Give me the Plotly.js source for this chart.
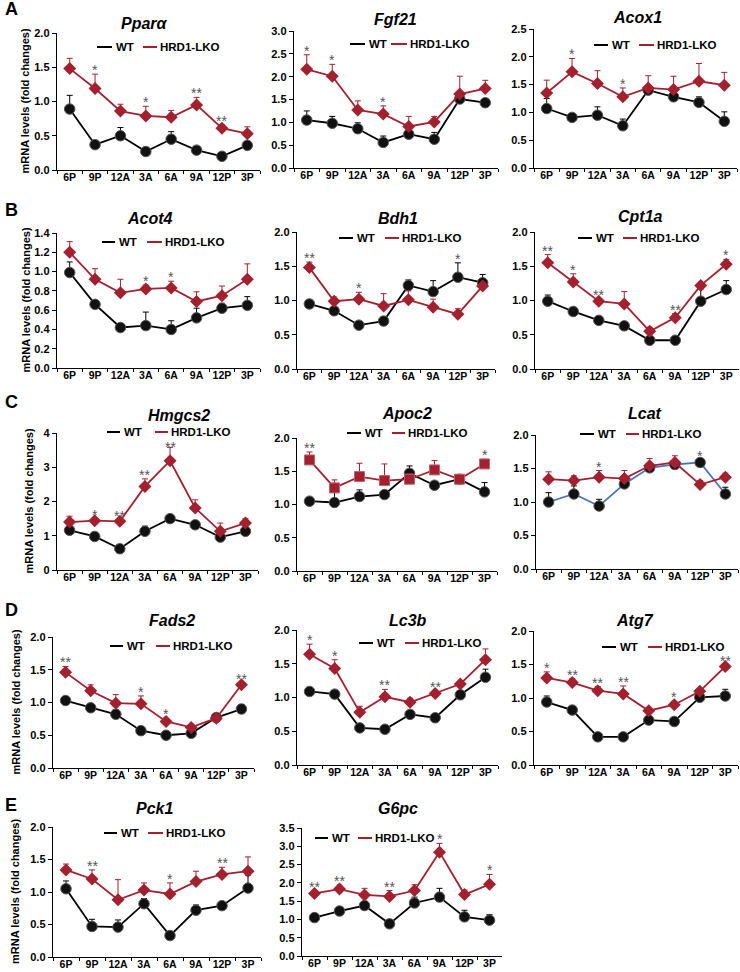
<!DOCTYPE html>
<html><head><meta charset="utf-8">
<script src="https://cdn.plot.ly/plotly-3.0.1.min.js"></script>
<style>body{margin:0;background:#fff}#chart{width:740px;height:972px}</style>
</head><body><div id="chart"></div>
<script>
const times = ['6P','9P','12A','3A','6A','9A','12P','3P'];
const seriesNames = ['WT','HRD1-LKO'];
const genes = ['Pparα','Fgf21','Acox1','Acot4','Bdh1','Cpt1a','Hmgcs2','Apoc2','Lcat','Fads2','Lc3b','Atg7','Pck1','G6pc'];

const pparaWT = [0.89,0.37,0.50,0.27,0.45,0.29,0.20,0.36];
const pparaWTerr = [0.20,0.03,0.12,0.02,0.11,0.02,0.02,0.05];
const pparaKO = [1.48,1.19,0.86,0.79,0.77,0.95,0.61,0.53];
const pparaKOerr = [0.15,0.21,0.10,0.14,0.10,0.11,0.05,0.10];
const pparaSig = ['','*','','*','','**','**',''];

const fgf21WT = [1.05,0.98,0.86,0.56,0.74,0.63,1.51,1.43];
const fgf21WTerr = [0.20,0.15,0.13,0.14,0.07,0.15,0.10,0.05];
const fgf21KO = [2.16,2.01,1.27,1.18,0.91,1.01,1.62,1.74];
const fgf21KOerr = [0.32,0.26,0.20,0.18,0.22,0.12,0.39,0.18];
const fgf21Sig = ['*','*','','*','','','',''];

const acox1WT = [1.07,0.91,0.95,0.76,1.40,1.28,1.18,0.84];
const acox1WTerr = [0.18,0.05,0.15,0.12,0.05,0.07,0.10,0.17];
const acox1KO = [1.35,1.73,1.52,1.28,1.44,1.41,1.56,1.49];
const acox1KOerr = [0.23,0.24,0.23,0.16,0.22,0.24,0.32,0.23];
const acox1Sig = ['','*','','*','','','',''];

const acot4WT = [0.99,0.66,0.42,0.44,0.40,0.52,0.62,0.65];
const acot4WTerr = [0.11,0.02,0.03,0.14,0.09,0.10,0.05,0.09];
const acot4KO = [1.20,0.92,0.78,0.82,0.83,0.69,0.75,0.92];
const acot4KOerr = [0.11,0.11,0.14,0.04,0.07,0.10,0.10,0.16];
const acot4Sig = ['','','','*','*','','',''];

const bdh1WT = [0.95,0.85,0.64,0.70,1.22,1.13,1.34,1.26];
const bdh1WTerr = [0.02,0.03,0.02,0.03,0.08,0.16,0.21,0.12];
const bdh1KO = [1.48,0.99,1.02,0.92,1.01,0.90,0.80,1.21];
const bdh1KOerr = [0.08,0.06,0.10,0.18,0.13,0.12,0.08,0.05];
const bdh1Sig = ['**','','*','','','','*',''];

const cpt1aWT = [0.99,0.84,0.71,0.63,0.42,0.42,0.99,1.16];
const cpt1aWTerr = [0.09,0.02,0.02,0.03,0.02,0.02,0.18,0.13];
const cpt1aKO = [1.55,1.27,0.99,0.95,0.55,0.75,1.22,1.53];
const cpt1aKOerr = [0.12,0.12,0.03,0.18,0.06,0.06,0.03,0.07];
const cpt1aSig = ['**','*','**','','','**','','*'];

const hmgcs2WT = [1.16,0.98,0.62,1.13,1.50,1.32,0.96,1.13];
const hmgcs2WTerr = [0.08,0.05,0.04,0.15,0.06,0.06,0.05,0.10];
const hmgcs2KO = [1.40,1.44,1.42,2.44,3.19,1.81,1.13,1.37];
const hmgcs2KOerr = [0.17,0.05,0.03,0.22,0.39,0.24,0.24,0.13];
const hmgcs2Sig = ['','*','**','**','**','','',''];

const apoc2WT = [1.05,1.03,1.12,1.15,1.47,1.29,1.38,1.19];
const apoc2WTerr = [0.02,0.15,0.10,0.03,0.11,0.03,0.03,0.14];
const apoc2KO = [1.67,1.25,1.42,1.36,1.38,1.52,1.38,1.61];
const apoc2KOerr = [0.12,0.12,0.20,0.25,0.08,0.14,0.03,0.07];
const apoc2Sig = ['**','','','','','','','*'];

const lcatWT = [1.00,1.12,0.94,1.27,1.51,1.56,1.59,1.12];
const lcatWTerr = [0.14,0.12,0.10,0.03,0.03,0.03,0.03,0.10];
const lcatKO = [1.34,1.32,1.37,1.35,1.54,1.59,1.26,1.37];
const lcatKOerr = [0.11,0.07,0.10,0.12,0.11,0.10,0.06,0.06];
const lcatSig = ['','','*','','','','*',''];

const fads2WT = [1.03,0.92,0.82,0.57,0.50,0.53,0.77,0.90];
const fads2WTerr = [0.02,0.03,0.07,0.06,0.03,0.03,0.04,0.07];
const fads2KO = [1.46,1.18,0.99,0.98,0.71,0.62,0.76,1.27];
const fads2KOerr = [0.09,0.09,0.13,0.12,0.05,0.04,0.04,0.03];
const fads2Sig = ['**','','','*','*','','','**'];

const lc3bWT = [1.09,1.05,0.55,0.53,0.75,0.70,1.04,1.30];
const lc3bWTerr = [0.03,0.02,0.02,0.02,0.02,0.02,0.03,0.12];
const lc3bKO = [1.64,1.43,0.78,1.01,0.93,1.06,1.20,1.56];
const lc3bKOerr = [0.15,0.13,0.09,0.11,0.06,0.04,0.03,0.16];
const lc3bSig = ['*','*','','**','','**','',''];

const atg7WT = [0.94,0.82,0.42,0.42,0.67,0.65,1.01,1.03];
const atg7WTerr = [0.09,0.02,0.03,0.05,0.02,0.02,0.03,0.10];
const atg7KO = [1.30,1.23,1.11,1.06,0.81,0.90,1.10,1.47];
const atg7KOerr = [0.09,0.06,0.06,0.12,0.02,0.05,0.02,0.03];
const atg7Sig = ['*','**','**','**','','*','','**'];

const pck1WT = [1.05,0.47,0.46,0.82,0.33,0.72,0.79,1.06];
const pck1WTerr = [0.12,0.11,0.11,0.08,0.02,0.08,0.04,0.20];
const pck1KO = [1.34,1.20,0.88,1.03,0.97,1.16,1.27,1.32];
const pck1KOerr = [0.09,0.14,0.31,0.11,0.17,0.16,0.11,0.22];
const pck1Sig = ['','**','','','*','','**',''];

const g6pcWT = [1.05,1.23,1.38,0.88,1.45,1.61,1.07,0.98];
const g6pcWTerr = [0.03,0.04,0.04,0.03,0.16,0.24,0.18,0.15];
const g6pcKO = [1.71,1.83,1.67,1.63,1.79,2.84,1.68,1.96];
const g6pcKOerr = [0.07,0.11,0.18,0.16,0.16,0.24,0.12,0.27];
const g6pcSig = ['**','**','','**','','*','','*'];

const W = 740, H = 972;
const RED = '#A3202E', BLACK = '#000000', BLUE = '#4A72C2';
const FONT = 'Liberation Sans, Arial, Helvetica, sans-serif';

// geometry in pixels: box [x0,x1,yTop,yBottom], title [cx,cy], legend [y, bx0,bx1, rx0,rx1]
const panels = [
 {wt:pparaWT, we:pparaWTerr, ko:pparaKO, ke:pparaKOerr, sig:pparaSig, ymax:2, dt:0.5, box:[57,260,33,170], t:[144,23], lg:[47,97,112,143,157]},
 {wt:fgf21WT, we:fgf21WTerr, ko:fgf21KO, ke:fgf21KOerr, sig:fgf21Sig, ymax:3, dt:0.5, box:[294,498,31,168], t:[395,19], lg:[44,350,365,391,407]},
 {wt:acox1WT, we:acox1WTerr, ko:acox1KO, ke:acox1KOerr, sig:acox1Sig, ymax:2.5, dt:0.5, box:[534,737,29,168], t:[637,18], lg:[45,594,608,639,654]},
 {wt:acot4WT, we:acot4WTerr, ko:acot4KO, ke:acot4KOerr, sig:acot4Sig, ymax:1.4, dt:0.2, box:[57,260,233,368], t:[150,218], lg:[242,102,115,147,162]},
 {wt:bdh1WT, we:bdh1WTerr, ko:bdh1KO, ke:bdh1KOerr, sig:bdh1Sig, ymax:2, dt:0.5, box:[297,495,232,369], t:[398,218], lg:[238,339,353,385,399]},
 {wt:cpt1aWT, we:cpt1aWTerr, ko:cpt1aKO, ke:cpt1aKOerr, sig:cpt1aSig, ymax:2, dt:0.5, box:[535,739,232,369], t:[640,217], lg:[238,578,592,623,637]},
 {wt:hmgcs2WT, we:hmgcs2WTerr, ko:hmgcs2KO, ke:hmgcs2KOerr, sig:hmgcs2Sig, ymax:4, dt:1, fmt:'d', box:[57,258,433,570], t:[179,415], lg:[432,107,120,155,168], lowStar:4},
 {wt:apoc2WT, we:apoc2WTerr, ko:apoc2KO, ke:apoc2KOerr, sig:apoc2Sig, ymax:2, dt:0.5, box:[297,497,438,571], t:[407,413], lg:[433,347,361,392,405], koSym:'square'},
 {wt:lcatWT, we:lcatWTerr, ko:lcatKO, ke:lcatKOerr, sig:lcatSig, ymax:2, dt:0.5, box:[536,738,435,569], t:[645,413], lg:[434,580,594,626,639], wtLine:BLUE},
 {wt:fads2WT, we:fads2WTerr, ko:fads2KO, ke:fads2KOerr, sig:fads2Sig, ymax:2, dt:0.5, box:[53,254,637,768], t:[172,620], lg:[646,110,123,156,170]},
 {wt:lc3bWT, we:lc3bWTerr, ko:lc3bKO, ke:lc3bKOerr, sig:lc3bSig, ymax:2, dt:0.5, box:[297,498,630,765], t:[408,620], lg:[643,359,373,405,419]},
 {wt:atg7WT, we:atg7WTerr, ko:atg7KO, ke:atg7KOerr, sig:atg7Sig, ymax:2, dt:0.5, box:[534,738,631,765], t:[635,620], lg:[647,602,616,648,662]},
 {wt:pck1WT, we:pck1WTerr, ko:pck1KO, ke:pck1KOerr, sig:pck1Sig, ymax:2, dt:0.5, box:[53,261,827,957], t:[154,808], lg:[833,104,117,148,163]},
 {wt:g6pcWT, we:g6pcWTerr, ko:g6pcKO, ke:g6pcKOerr, sig:g6pcSig, ymax:3.5, dt:0.5, box:[302,502,828,956], t:[398,808], lg:[838,315,328,358,372]}
];

const px = x => x / W;
const py = y => 1 - y / H;

const traces = [];
const layout = {
  width: W, height: H, margin: {l:0, r:0, t:0, b:0},
  paper_bgcolor: '#fff', plot_bgcolor: 'rgba(0,0,0,0)',
  showlegend: false, font: {family: FONT, color: '#000'},
  annotations: [], shapes: []
};
const zeros = times.map(() => 0);

panels.forEach((p, i) => {
  const n = i + 1;
  const xa = n === 1 ? 'x' : 'x' + n;
  const ya = n === 1 ? 'y' : 'y' + n;
  const [x0, x1, yt, yb] = p.box;
  layout[n === 1 ? 'xaxis' : 'xaxis' + n] = {
    domain: [px(x0), px(x1)], anchor: ya, type: 'category',
    range: [-0.5, 7.5], tickson: 'boundaries', ticks: 'outside', ticklen: 3, tickwidth: 1,
    tickangle: 0, automargin: false, ticklabelstandoff: -3,
    tickcolor: '#000', showline: true, linecolor: '#000', linewidth: 1.3,
    showgrid: false, zeroline: false, fixedrange: true,
    tickfont: {family: FONT, size: 10.5, weight: 'bold', color: '#000'}
  };
  layout[n === 1 ? 'yaxis' : 'yaxis' + n] = {
    domain: [py(yb), py(yt)], anchor: xa, range: [0, p.ymax], dtick: p.dt, tick0: 0,
    tickformat: p.fmt === 'd' ? 'd' : '.1f', automargin: false,
    ticks: 'outside', ticklen: 4, tickwidth: 1, tickcolor: '#000',
    showline: true, linecolor: '#000', linewidth: 1.3,
    showgrid: false, zeroline: false, fixedrange: true,
    tickfont: {family: FONT, size: 11, weight: 'bold', color: '#000'}
  };
  traces.push({
    x: times, y: p.wt, xaxis: xa, yaxis: ya, name: seriesNames[0], type: 'scatter',
    mode: 'lines+markers', line: {color: p.wtLine || BLACK, width: 1.8},
    marker: {symbol: 'circle', size: 10.5, color: '#111', line: {color: '#555', width: 1}},
    error_y: {type: 'data', symmetric: false, array: p.we, arrayminus: zeros, color: '#000', thickness: 1, width: 3}
  });
  traces.push({
    x: times, y: p.ko, xaxis: xa, yaxis: ya, name: seriesNames[1], type: 'scatter',
    mode: 'lines+markers', line: {color: RED, width: 1.8},
    marker: {symbol: p.koSym || 'diamond', size: 10, color: RED, line: {color: p.koSym ? '#c06070' : RED, width: p.koSym ? 1 : 0}},
    error_y: {type: 'data', symmetric: false, array: p.ke, arrayminus: zeros, color: RED, thickness: 1, width: 3}
  });
  // significance marks
  p.sig.forEach((s, k) => {
    if (!s) return;
    const top = Math.max(p.wt[k] + p.we[k], p.ko[k] + p.ke[k]);
    layout.annotations.push({xref: xa, yref: ya, x: times[k], y: top, text: s, showarrow: false,
      yanchor: 'bottom', yshift: (p.lowStar === k) ? -10 : -6, font: {family: FONT, size: 14, color: '#555'}});
  });
  // title
  layout.annotations.push({xref: 'paper', yref: 'paper', x: px(p.t[0]), y: py(p.t[1]),
    text: '<b><i>' + genes[i] + '</i></b>', showarrow: false, xanchor: 'center', yanchor: 'middle',
    font: {family: FONT, size: 16, color: '#000'}});
  // legend
  const [ly, bx0, bx1, rx0, rx1] = p.lg;
  layout.shapes.push({type: 'line', xref: 'paper', yref: 'paper', x0: px(bx0), x1: px(bx1), y0: py(ly), y1: py(ly), line: {color: BLACK, width: 2}});
  layout.shapes.push({type: 'line', xref: 'paper', yref: 'paper', x0: px(rx0), x1: px(rx1), y0: py(ly), y1: py(ly), line: {color: RED, width: 2}});
  layout.annotations.push({xref: 'paper', yref: 'paper', x: px(bx1 + 2), y: py(ly), text: '<b>' + seriesNames[0] + '</b>',
    showarrow: false, xanchor: 'left', yanchor: 'middle', font: {family: FONT, size: 11.5, color: '#000'}});
  layout.annotations.push({xref: 'paper', yref: 'paper', x: px(rx1 + 1), y: py(ly), text: '<b>' + seriesNames[1] + '</b>',
    showarrow: false, xanchor: 'left', yanchor: 'middle', font: {family: FONT, size: 11.5, color: '#000'}});
});

// panel letters
[['A',3,9],['B',3,210],['C',3,402],['D',3,610],['E',3,805]].forEach(([t, x, y]) => {
  layout.annotations.push({xref: 'paper', yref: 'paper', x: px(x), y: py(y), text: '<b>' + t + '</b>',
    showarrow: false, xanchor: 'left', yanchor: 'middle', font: {family: FONT, size: 18, color: '#000'}});
});
// y-axis titles for first column
[[25,0],[25,3],[28,6],[15,9],[15,12]].forEach(([x, pi]) => {
  const b = panels[pi].box;
  layout.annotations.push({xref: 'paper', yref: 'paper', x: px(x), y: py((b[2] + b[3]) / 2),
    text: '<b>mRNA levels (fold changes)</b>', textangle: -90, showarrow: false,
    xanchor: 'center', yanchor: 'middle', font: {family: FONT, size: 11, color: '#000'}});
});

Plotly.newPlot('chart', traces, layout, {staticPlot: true, displayModeBar: false});
</script></body></html>
